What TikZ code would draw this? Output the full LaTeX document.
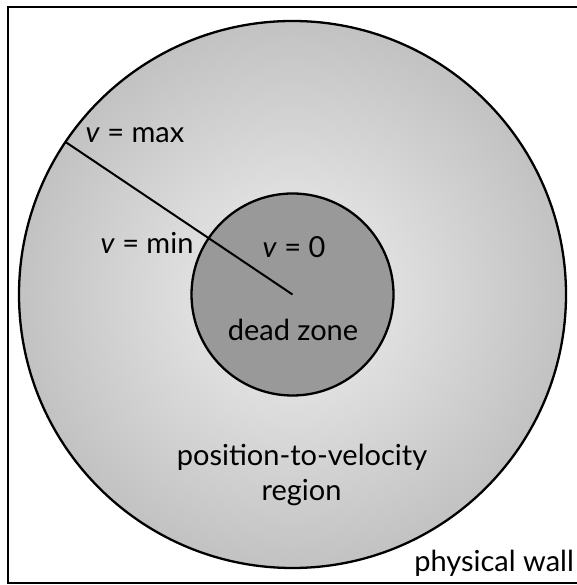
\documentclass[tikz,border=0pt]{standalone}
\usepackage{fontspec}
\setmainfont{Lato}
\usetikzlibrary{calc}
\definecolor{innerc}{HTML}{F0F0F0}
\definecolor{outerc}{HTML}{949494}
\definecolor{deadc}{HTML}{999999}
\pgfdeclareradialshading{zoneshade}{\pgfpoint{0bp}{0bp}}{color(0bp)=(innerc); color(50bp)=(outerc)}
\tikzset{
  lbl/.style={font=\fontsize{29}{34}\selectfont, inner sep=0pt, anchor=center},
  edge/.style={line width=2.3pt, black}
}
\begin{document}
\begin{tikzpicture}[x=1pt,y=1pt]
\useasboundingbox (0,0) rectangle (576,585);
\draw[edge] (590,2) -- (8,2) -- (8,578) -- (590,578);
\coordinate (c) at (292.5,290.5);
\shade[shading=zoneshade] (c) circle (273.5);
\draw[edge] (c) circle (273.5);
\fill[deadc] (c) circle (101);
\draw[edge] (c) circle (101);
\coordinate (rim) at ($(c)+(146.1:273.5)$);
\draw[line width=2pt] (rim) -- (c);
\node[lbl] (vmax) at (135,450) {\textit{v} = max};
\node[lbl] (vmin) at (147,342) {\textit{v} = min};
\node[lbl] (vzero) at (294,338) {\textit{v} = 0};
\node[lbl] (dead) at (293,255) {dead zone};
\node[lbl] (pos) at (302,128) {position-to-velocity};
\node[lbl] (reg) at (301.5,92) {region};
\node[lbl, anchor=east] (wall) at (574,22) {physical wall};
\end{tikzpicture}
\end{document}
